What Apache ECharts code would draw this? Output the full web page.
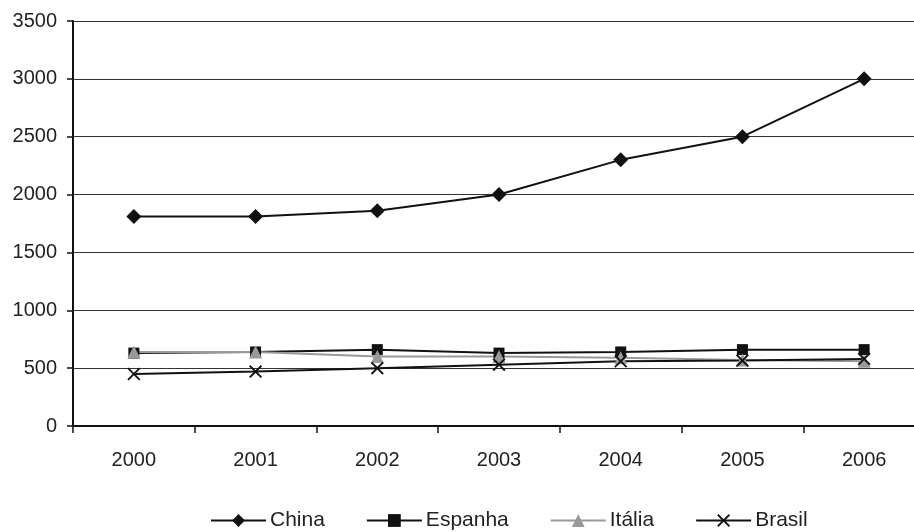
<!DOCTYPE html>
<html><head><meta charset="utf-8">
<script src="https://cdn.jsdelivr.net/npm/echarts@6/dist/echarts.min.js"></script>
<style>html,body{margin:0;padding:0;background:#fff}#c{width:914px;height:532px}</style>
</head><body><div id="c"></div>
<script>
const years = ['2000','2001','2002','2003','2004','2005','2006'];
const china = [1810, 1810, 1860, 2000, 2300, 2500, 3000];
const espanha = [630, 640, 660, 630, 640, 660, 660];
const italia = [640, 640, 600, 600, 590, 570, 560];
const brasil = [450, 470, 500, 530, 560, 565, 580];
const yTicks = {min: 0, max: 3500, interval: 500};

const xPath = 'path://M0,1L1,0L5,4L9,0L10,1L6,5L10,9L9,10L5,6L1,10L0,9L4,5Z';
const font = 'Liberation Sans, Arial, sans-serif';
const chart = echarts.init(document.getElementById('c'));
function s(name, data, color, symbol, size) {
  return {name, type: 'line', data, symbol, symbolSize: size, showAllSymbol: true,
    lineStyle: {color, width: 2}, itemStyle: {color, opacity: 1}, animation: false};
}
chart.setOption({
  animation: false,
  grid: {left: 73, top: 21, width: 852, bottom: 106, containLabel: false,
    outerBoundsMode: 'none'},
  xAxis: {type: 'category', data: years, boundaryGap: true,
    axisLine: {lineStyle: {color: '#111', width: 2}},
    axisTick: {show: true, length: 7, lineStyle: {color: '#111', width: 1.5}},
    axisLabel: {color: '#222', fontSize: 20, fontFamily: font, margin: 24},
    splitLine: {show: false}},
  yAxis: {type: 'value', min: yTicks.min, max: yTicks.max, interval: yTicks.interval,
    axisLine: {show: true, lineStyle: {color: '#111', width: 2}},
    axisTick: {show: true, length: 6, lineStyle: {color: '#111', width: 1.5}},
    axisLabel: {color: '#222', fontSize: 20, fontFamily: font, margin: 16,
      formatter: v => String(v)},
    splitLine: {show: true, lineStyle: {color: '#333', width: 1.2}}},
  legend: {bottom: -4, left: 205, itemWidth: 55, itemHeight: 16, itemGap: 41,
    textStyle: {color: '#222', fontSize: 21, fontFamily: font, padding: [0,0,0,-1]},
    data: ['China','Espanha','Itália','Brasil']},
  series: [
    s('China', china, '#111', 'diamond', 15),
    s('Espanha', espanha, '#111', 'rect', 11),
    s('Itália', italia, '#999', 'triangle', 13),
    s('Brasil', brasil, '#111', xPath, 13)
  ]
});
</script></body></html>
